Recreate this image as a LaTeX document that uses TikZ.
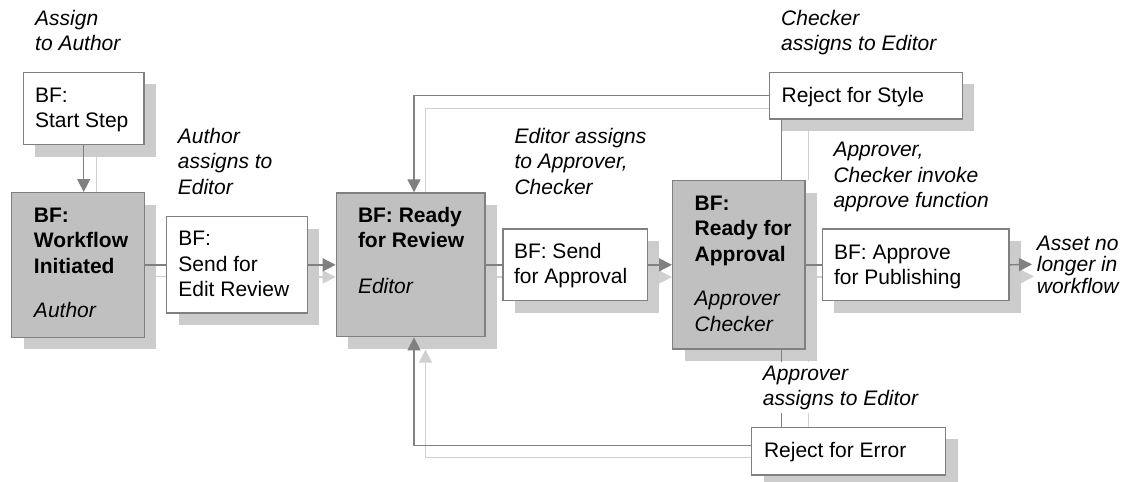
\documentclass[tikz,border=0pt]{standalone}
\usepackage{fontspec}
\setmainfont{Liberation Sans}
\usetikzlibrary{arrows.meta,shadows,backgrounds,calc}
\definecolor{dk}{RGB}{128,128,128}
\definecolor{lt}{RGB}{208,208,208}
\definecolor{sh}{RGB}{204,204,204}
\definecolor{gf}{RGB}{192,192,192}
\newcommand\fs{\fontsize{21}{25.5}\selectfont}
\newcommand\bxc[5]{\parbox[c][#2pt][t]{#1pt}{\raggedright\leftskip=#3pt\relax\rule{0pt}{#4pt}#5\par}}
\newcommand\ltab[1]{\begin{tabular}[t]{@{}l@{}}#1\end{tabular}}
\tikzset{
  box/.style={draw=dk, line width=1.4pt, fill=white, inner sep=0pt, anchor=north west, font=\fs,
    drop shadow={shadow xshift=12pt, shadow yshift=-12pt, fill=sh, draw=none, opacity=1}},
  gbox/.style={box, fill=gf},
  dline/.style={draw=dk, line width=1.4pt},
  lline/.style={draw=lt, line width=1.4pt},
  tip/.style={-{Triangle[length=13pt,width=13pt]}},
  lab/.style={inner sep=0pt, anchor=base west, font=\fs\itshape},
}
\begin{document}
\begin{tikzpicture}[x=1pt,y=-1pt]
\useasboundingbox (0,0) rectangle (1125,482);
% boxes
\node[box] (start) at (22.7,71.7) {\bxc{120.6}{72.3}{11.6}{30}{BF:\\Start Step}};
\node[gbox] (wfi) at (11,192) {\bxc{132.7}{144.7}{22.3}{29.7}{\bfseries BF:\\Workflow\\Initiated\\[19pt]\mdseries\itshape Author}};
\node[box] (sendedit) at (166,216) {\bxc{140.7}{96.3}{11.7}{29}{BF:\\Send for\\Edit Review}};
\node[gbox] (rr) at (335.7,192.3) {\bxc{148.6}{143.7}{21.6}{29.4}{\bfseries BF: Ready\\for Review\\[20pt]\mdseries\itshape Editor}};
\node[box] (sendapp) at (502.3,228.3) {\bxc{144.4}{71.7}{11}{29.4}{BF: Send\\for Approval}};
\node[gbox] (ra) at (672,180) {\bxc{132.3}{168.3}{22}{29.3}{\bfseries BF:\\Ready for\\Approval\\[19pt]\mdseries\itshape Approver\\Checker}};
\node[box] (style) at (769,71.7) {\bxc{192.7}{46.6}{12}{30}{Reject for Style}};
\node[box] (pub) at (821.7,228.3) {\bxc{186.6}{71.7}{11.6}{30}{BF: Approve\\for Publishing}};
\node[box] (error) at (751,426.7) {\bxc{194}{47.6}{12.3}{30}{Reject for Error}};
% helper coordinates
\coordinate (xd) at (414,0);
\coordinate (xl) at (425.5,0);
\coordinate (vd) at (781.7,0);
\coordinate (vl) at (808.3,0);
\coordinate (exd) at (1032,264.3);
\coordinate (exl) at (1034,276.3);
% light (shadow) connectors
\begin{scope}[on background layer]
\draw[lline] ([xshift=12.5pt]start.south) -- ([xshift=12.5pt]start.south |- wfi.north);
\draw[lline] ([yshift=-11.7pt]wfi.east) -- ([yshift=-11.7pt]wfi.east -| sendedit.west);
\draw[lline,tip] ([yshift=-12.2pt]sendedit.east) -- ([yshift=-12.2pt]sendedit.east -| rr.west);
\draw[lline] ([yshift=-12.2pt]rr.east) -- ([yshift=-12.2pt]rr.east -| sendapp.west);
\draw[lline,tip] ([yshift=-12.2pt]sendapp.east) -- ([yshift=-12.2pt]sendapp.east -| ra.west);
\draw[lline] ([yshift=-12pt]ra.east) -- ([yshift=-12pt]ra.east -| pub.west);
\draw[lline,tip] ([yshift=-12pt]pub.east) -- (exl);
\draw[lline] ([yshift=-12.5pt]style.west) -- ([yshift=-12.5pt]style.west -| xl) -- (xl |- rr.north);
\draw[lline] (vl |- style.south) -- (vl |- ra.north);
\draw[lline] (vl |- ra.south) -- (vl |- error.north);
\draw[lline,tip] ([yshift=-6.2pt]error.west) -- ([yshift=-6.2pt]error.west -| xl) -- ($(xl |- rr.south)+(0,12.3)$);
\end{scope}
% dark connectors
\draw[dline,tip] (start.south) -- (start.south |- wfi.north);
\draw[dline] (wfi.east) -- (wfi.east -| sendedit.west);
\draw[dline,tip] (sendedit.east) -- (sendedit.east -| rr.west);
\draw[dline] (rr.east) -- (rr.east -| sendapp.west);
\draw[dline,tip] (sendapp.east) -- (sendapp.east -| ra.west);
\draw[dline] (ra.east) -- (ra.east -| pub.west);
\draw[dline,tip] (pub.east) -- (exd);
\draw[dline,tip] (style.west) -- (style.west -| xd) -- (xd |- rr.north);
\draw[dline] (vd |- style.south) -- (vd |- ra.north);
\draw[dline] (vd |- ra.south) -- (vd |- error.north);
\draw[dline,tip] ([yshift=5.5pt]error.west) -- ([yshift=5.5pt]error.west -| xd) -- (xd |- rr.south);
% labels
\node[lab] (l1) at (35,25) {\ltab{Assign\\to Author}};
\node[lab] (l2) at (177.7,143.3) {\ltab{Author\\assigns to\\Editor}};
\node[lab] (l3) at (514.3,143.3) {\ltab{Editor assigns\\to Approver,\\Checker}};
\node[lab] (l4) at (781,25) {\ltab{Checker\\assigns to Editor}};
\node[lab] (l5) at (833.3,156.5) {\ltab{Approver,\\Checker invoke\\approve function}};
\node[lab, fill=white] (l6) at (762.7,380) {\ltab{Approver\\assigns to Editor}};
\node[lab] (l7) at (1036.7,250) {\fontsize{21}{21.5}\selectfont\ltab{Asset no\\longer in\\workflow}};
\end{tikzpicture}
\end{document}
